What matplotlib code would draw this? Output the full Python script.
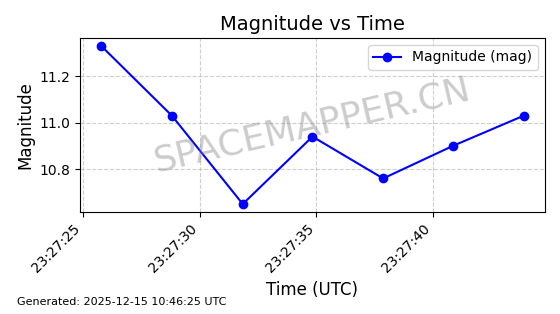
import matplotlib
matplotlib.use("Agg")
import matplotlib.pyplot as plt
import matplotlib.dates as mdates
from datetime import datetime, timedelta

# observation times (seconds after 23:27:00) and magnitudes
seconds = [25.77, 28.80, 31.84, 34.83, 37.86, 40.85, 43.89]
magnitudes = [11.33, 11.03, 10.65, 10.94, 10.76, 10.90, 11.03]

base = datetime(2025, 12, 14, 23, 27, 0)
times = [base + timedelta(seconds=s) for s in seconds]

fig, ax = plt.subplots(figsize=(5.6, 3.14), dpi=100)
fig.subplots_adjust(left=0.143, right=0.973, top=0.879, bottom=0.325)

ax.plot(times, magnitudes, 'o-', color='blue', markersize=6, label='Magnitude (mag)')
ax.set_title('Magnitude vs Time', fontsize=14)
ax.set_xlabel('Time (UTC)', fontsize=12)
ax.set_ylabel('Magnitude', fontsize=12)
ax.grid(True, linestyle='--', alpha=0.6)
ax.legend(loc='upper right')

ax.xaxis.set_major_locator(mdates.SecondLocator(bysecond=range(0, 60, 5)))
ax.xaxis.set_major_formatter(mdates.DateFormatter('%H:%M:%S'))
plt.setp(ax.get_xticklabels(), rotation=45, ha='right')

ax.text(0.5, 0.5, 'SPACEMAPPER.CN', transform=ax.transAxes, fontsize=26,
        color='gray', alpha=0.4, rotation=13, ha='center', va='center')

fig.text(0.03, 0.03, 'Generated: 2025-12-15 10:46:25 UTC', fontsize=8)

fig.savefig('out.png', dpi=100)
